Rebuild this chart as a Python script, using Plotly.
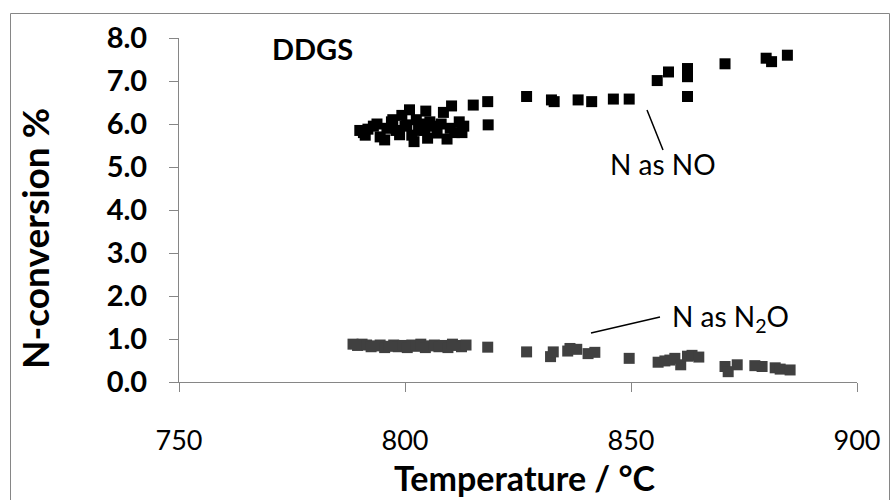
import plotly.graph_objects as go

# ---- data ----
no_temp = [790.0, 790.8, 791.2, 791.8, 793.0, 793.8, 794.5, 795.5, 796.0, 797.0, 797.3, 798.0,
           798.8, 799.3, 800.0, 800.4, 801.0, 801.5, 802.0, 802.5, 803.0, 803.5, 804.4, 804.6,
           805.0, 805.5, 806.5, 807.1, 808.0, 808.5, 809.3, 810.0, 810.3, 811.0, 812.0, 812.6,
           813.0, 815.1, 818.3, 818.4, 826.9, 832.4, 833.0, 838.3, 841.3, 846.1, 849.6, 855.8,
           858.3, 862.5, 862.5, 862.5, 870.8, 879.9, 881.1, 884.6]
no_val = [5.85, 5.80, 5.74, 5.88, 5.95, 6.00, 5.70, 5.63, 5.90, 6.05, 6.10, 5.85,
          5.75, 6.20, 5.95, 5.98, 6.33, 5.74, 5.59, 6.10, 5.85, 6.00, 5.86, 6.30,
          5.67, 6.05, 5.95, 5.79, 6.00, 6.27, 5.65, 5.90, 6.42, 5.80, 6.05, 5.80,
          5.95, 6.44, 6.52, 5.98, 6.64, 6.56, 6.52, 6.56, 6.52, 6.58, 6.58, 7.01,
          7.21, 7.29, 7.10, 6.64, 7.40, 7.53, 7.45, 7.60]

n2o_temp = [788.5, 789.5, 790.5, 791.5, 792.5, 793.5, 794.5, 795.5, 796.5, 797.5, 798.5, 799.5,
            800.5, 801.5, 802.5, 803.5, 804.5, 805.5, 806.5, 807.5, 808.5, 809.5, 810.5, 811.5,
            812.5, 813.5, 818.3, 826.9, 832.2, 832.8, 836.0, 836.5, 838.0, 840.5, 842.0, 849.6,
            856.0, 857.5, 858.6, 859.7, 861.0, 862.5, 863.5, 865.0, 870.8, 871.5, 873.5, 877.4,
            879.0, 881.9, 883.0, 885.2]
n2o_val = [0.88, 0.85, 0.88, 0.86, 0.82, 0.84, 0.86, 0.80, 0.83, 0.86, 0.82, 0.85,
           0.80, 0.86, 0.83, 0.88, 0.80, 0.84, 0.86, 0.82, 0.85, 0.80, 0.88, 0.85,
           0.82, 0.86, 0.81, 0.70, 0.59, 0.70, 0.72, 0.78, 0.76, 0.66, 0.69, 0.55,
           0.46, 0.49, 0.51, 0.55, 0.40, 0.60, 0.62, 0.58, 0.36, 0.24, 0.40, 0.38,
           0.36, 0.33, 0.30, 0.28]

x_ticks = [750, 800, 850, 900]
y_ticks = [0, 1, 2, 3, 4, 5, 6, 7, 8]

FONT = "Lato"
W, H = 891, 500
L, R, T, B = 179, 34, 38, 118
pw, ph = W - L - R, H - T - B

def px(xp):
    return (xp - L) / pw

def py(yp):
    return (H - B - yp) / ph

fig = go.Figure()
fig.add_trace(go.Scatter(x=no_temp, y=no_val, mode="markers", name="N as NO",
                         marker=dict(symbol="square", size=11, color="#000000")))
fig.add_trace(go.Scatter(x=n2o_temp, y=n2o_val, mode="markers", name="N as N2O",
                         marker=dict(symbol="square", size=11, color="#404040")))

axis_common = dict(showgrid=False, zeroline=False, showline=True, linecolor="#868686",
                   linewidth=1, ticks="outside", ticklen=9, tickcolor="#868686", tickwidth=1)

fig.update_xaxes(range=[750, 900], tickvals=x_ticks, ticktext=[str(v) for v in x_ticks],
                 tickfont=dict(family=FONT, size=27, color="#000000"),
                 ticklabelstandoff=26, **axis_common)
fig.update_yaxes(range=[0, 8], tickvals=y_ticks, ticktext=[f"{v:.1f}" for v in y_ticks],
                 tickfont=dict(family=FONT, size=29, color="#000000", weight="bold"),
                 ticklabelstandoff=16, **axis_common)

def ann(text, x, y, size, **kw):
    d = dict(text=text, x=px(x), y=py(y), xref="paper", yref="paper", xanchor="center",
             yanchor="middle", showarrow=False, font=dict(family=FONT, size=size, color="#000000"))
    d.update(kw)
    return d

annotations = [
    ann("<b>DDGS</b>", 312, 48, 29),
    ann("N as NO", 663, 164, 28),
    ann("N as N<sub>2</sub>O", 730, 318, 28),
    ann("<b>Temperature / °C</b>", 525, 477, 34),
    ann("<b>N-conversion %</b>", 35, 239, 37, textangle=-90),
]

shapes = [
    dict(type="line", xref="paper", yref="paper", x0=px(647), y0=py(110), x1=px(663), y1=py(150),
         line=dict(color="#000000", width=1.5)),
    dict(type="line", xref="paper", yref="paper", x0=px(591), y0=py(333), x1=px(660), y1=py(317),
         line=dict(color="#000000", width=1.5)),
    dict(type="rect", xref="paper", yref="paper", x0=px(10.5), y0=py(13.5), x1=px(889.5), y1=py(505),
         line=dict(color="#868686", width=1), fillcolor="rgba(0,0,0,0)", layer="below"),
]

fig.update_layout(width=W, height=H, margin=dict(l=L, r=R, t=T, b=B),
                  paper_bgcolor="white", plot_bgcolor="white", showlegend=False,
                  annotations=annotations, shapes=shapes)

fig.write_html("out.html")
